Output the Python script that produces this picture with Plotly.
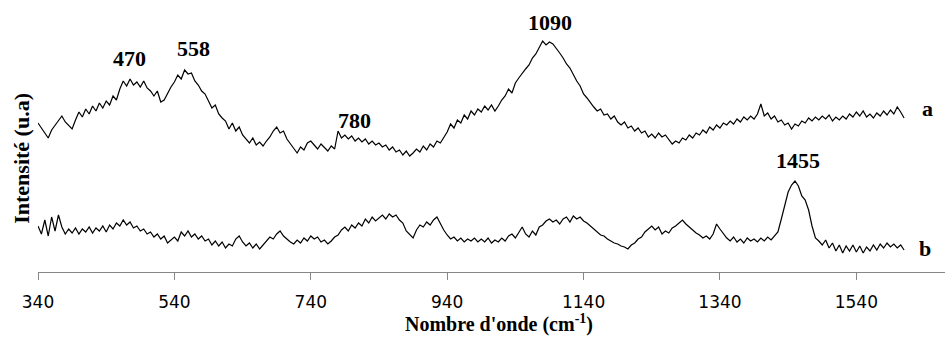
import plotly.graph_objects as go

wavenumber = list(range(340, 1615, 5))

spectrum_a = [
    149, 144, 139, 134, 142, 147, 151, 156, 150, 146,
    143, 152, 160, 155, 163, 158, 166, 161, 169, 164,
    171, 167, 176, 172, 183, 191, 186, 193, 187, 190,
    185, 191, 184, 181, 176, 181, 170, 172, 179, 185,
    190, 197, 193, 202, 198, 199, 191, 187, 181, 178,
    171, 164, 167, 158, 154, 151, 143, 149, 141, 145,
    137, 133, 129, 134, 127, 130, 126, 131, 135, 141,
    145, 139, 141, 133, 128, 124, 119, 125, 122, 129,
    131, 127, 123, 128, 124, 121, 126, 123, 141, 134,
    137, 133, 136, 131, 134, 130, 133, 128, 131, 127,
    129, 125, 127, 122, 125, 120, 122, 117, 121, 116,
    119, 123, 120, 126, 122, 128, 125, 131, 129, 134,
    140, 148, 144, 152, 149, 157, 153, 161, 157, 163,
    160, 166, 162, 167, 161, 166, 172, 176, 183, 179,
    189, 194, 199, 203, 207, 214, 218, 225, 231, 227,
    230, 228, 224, 219, 214, 208, 204, 197, 191, 186,
    178, 174, 169, 165, 161, 163, 157, 158, 153, 156,
    150, 147, 150, 144, 146, 141, 144, 139, 141, 135,
    138, 134, 139, 135, 137, 133, 128, 131, 129, 134,
    132, 137, 134, 139, 137, 142, 139, 145, 142, 147,
    144, 149, 147, 151, 148, 153, 150, 155, 152, 156,
    153, 158, 168, 156, 159, 153, 156, 150, 152, 147,
    149, 143, 148, 146, 151, 149, 154, 151, 155, 152,
    156, 153, 157, 151, 155, 152, 156, 153, 158, 155,
    160, 156, 161, 155, 158, 154, 159, 156, 161, 157,
    162, 158, 165, 160, 154,
]

spectrum_b = [
    46, 38, 52, 36, 55, 41, 57, 45, 38, 43,
    39, 44, 38, 43, 40, 45, 39, 44, 41, 46,
    40, 47, 43, 49, 46, 52, 47, 50, 44, 46,
    41, 43, 38, 40, 35, 38, 33, 36, 29, 32,
    35, 31, 40, 36, 41, 35, 38, 33, 36, 31,
    33, 27, 31, 26, 30, 24, 28, 26, 33, 36,
    30, 26, 29, 24, 28, 23, 27, 31, 35, 33,
    38, 41, 36, 33, 30, 28, 32, 29, 34, 31,
    36, 33, 35, 30, 32, 28, 31, 35, 37, 42,
    45, 41, 47, 44, 49, 46, 53, 49, 55, 51,
    54, 57, 53, 58, 55, 57, 52, 49, 41, 37,
    34, 42, 47, 45, 50, 47, 52, 55, 48, 42,
    37, 33, 35, 31, 34, 30, 33, 31, 34, 30,
    33, 30, 34, 29, 32, 30, 34, 31, 36, 38,
    34, 40, 45, 38, 35, 41, 37, 45, 47, 51,
    53, 50, 52, 48, 53, 55, 50, 56, 53, 55,
    51, 49, 46, 43, 40, 37, 36, 33, 31, 29,
    28, 26, 25, 23, 27, 29, 33, 35, 40, 43,
    46, 42, 45, 38, 41, 39, 44, 46, 49, 52,
    48, 45, 42, 39, 37, 34, 36, 33, 38, 48,
    43, 38, 34, 31, 35, 30, 33, 29, 34, 31,
    33, 30, 34, 31, 35, 32, 36, 40, 53, 68,
    80, 87, 91, 86, 76, 72, 62, 46, 34, 31,
    27, 32, 24, 29, 21, 27, 19, 26, 21, 27,
    20, 26, 19, 25, 21, 27, 22, 28, 24, 29,
    25, 28, 24, 27, 22,
]

tick_values = [340, 540, 740, 940, 1140, 1340, 1540]

peak_labels = ["470", "558", "780", "1090", "1455"]
peak_x = [474, 568, 804, 1091, 1455]
peak_y = [214, 224, 152, 250, 112]

series_labels = ["a", "b"]
series_label_x = [1645, 1640]
series_label_y = [164, 24]

fig = go.Figure()
fig.add_trace(go.Scatter(x=wavenumber, y=spectrum_a, mode="lines",
                         line=dict(color="black", width=1.2), showlegend=False))
fig.add_trace(go.Scatter(x=wavenumber, y=spectrum_b, mode="lines",
                         line=dict(color="black", width=1.2), showlegend=False))

serif_bold = "Liberation Serif, Times New Roman, serif"

for t, x, y in zip(peak_labels, peak_x, peak_y):
    fig.add_annotation(x=x, y=y, text="<b>" + t + "</b>", showarrow=False,
                       font=dict(family=serif_bold, size=22, color="black"),
                       xanchor="center", yanchor="middle")
for t, x, y in zip(series_labels, series_label_x, series_label_y):
    fig.add_annotation(x=x, y=y, text="<b>" + t + "</b>", showarrow=False,
                       font=dict(family=serif_bold, size=22, color="black"),
                       xanchor="center", yanchor="middle")

fig.add_annotation(xref="paper", yref="paper", x=0.508, y=-0.243,
                   text="<b>Nombre d'onde (cm<sup>-1</sup>)</b>", showarrow=False,
                   font=dict(family=serif_bold, size=20, color="black"),
                   xanchor="center", yanchor="bottom")
fig.add_annotation(xref="paper", yref="paper", x=-0.019, y=0.419,
                   text="<b>Intensité (u.a)</b>", showarrow=False, textangle=-90,
                   font=dict(family=serif_bold, size=22, color="black"),
                   xanchor="center", yanchor="middle")

fig.update_layout(
    width=948, height=338,
    margin=dict(l=38, r=3, t=0, b=66),
    paper_bgcolor="white", plot_bgcolor="white",
    xaxis=dict(range=[340, 1670], tickvals=tick_values,
               showgrid=False, zeroline=False,
               showline=True, linecolor="#868686", linewidth=1,
               ticks="outside", ticklen=7, tickcolor="#868686",
               ticklabelstandoff=8,
               tickfont=dict(family="DejaVu Sans, sans-serif",
                             size=17, color="black")),
    yaxis=dict(range=[0, 272], visible=False),
)

fig.write_html("out.html")
